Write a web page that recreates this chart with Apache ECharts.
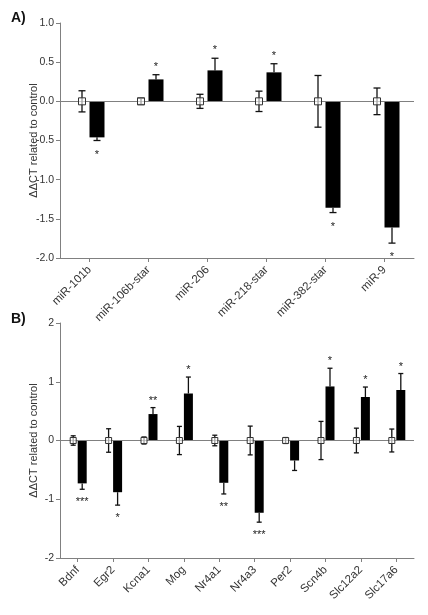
<!DOCTYPE html>
<html>
<head>
<meta charset="utf-8">
<script src="https://cdn.jsdelivr.net/npm/echarts@6/dist/echarts.min.js"></script>
<style>
html,body{margin:0;padding:0;background:#fff;}
#c{width:428px;height:615px;}
</style>
</head>
<body>
<div id="c"></div>
<script>
// ---- Data ----
const catsA = ['miR-101b','miR-106b-star','miR-206','miR-218-star','miR-382-star','miR-9'];
const ctrlMeanA = [0,0,0,0,0,0];
const ctrlErrA = [0.135,0.04,0.09,0.13,0.33,0.17];
const treatMeanA = [-0.46,0.28,0.395,0.37,-1.36,-1.61];
const treatErrA = [0.04,0.06,0.155,0.11,0.06,0.2];
const starsA = ['*','*','*','*','*','*'];
const ticksA = [-2.0,-1.5,-1.0,-0.5,0.0,0.5,1.0];

const catsB = ['Bdnf','Egr2','Kcna1','Mog','Nr4a1','Nr4a3','Per2','Scn4b','Slc12a2','Slc17a6'];
const ctrlMeanB = [0,0,0,0,0,0,0,0,0,0];
const ctrlErrB = [0.08,0.2,0.06,0.24,0.09,0.245,0.05,0.325,0.21,0.195];
const treatMeanB = [-0.73,-0.88,0.45,0.80,-0.72,-1.23,-0.34,0.92,0.74,0.86];
const treatErrB = [0.10,0.22,0.11,0.28,0.19,0.16,0.17,0.31,0.17,0.28];
const starsB = ['***','*','**','*','**','***','','*','*','*'];
const ticksB = [-2,-1,0,1,2];

const yTitle = 'ΔΔCT related to control';
const FONT = '"Liberation Sans", Arial, sans-serif';
const AXIS = '#808080';
const TXT = '#333';

const chart = echarts.init(document.getElementById('c'), null, {renderer:'canvas'});

function yAxisCfg(gi, ticks, dec){
  return {
    type:'value', gridIndex:gi, min:ticks[0], max:ticks[ticks.length-1],
    interval: ticks[1]-ticks[0],
    name: yTitle, nameLocation:'middle', nameGap:21, nameMoveOverlap:false,
    nameTextStyle:{fontFamily:FONT, fontSize:11, color:TXT},
    axisLine:{show:true, lineStyle:{color:AXIS, width:1}},
    axisTick:{show:true, length:4, lineStyle:{color:AXIS}},
    axisLabel:{fontFamily:FONT, fontSize:10.5, color:TXT, margin:6,
      formatter: v => v.toFixed(dec)},
    splitLine:{show:false}
  };
}
function xAxisCfg(gi, cats){
  return {
    type:'category', gridIndex:gi, data:cats,
    axisLine:{onZero:false, lineStyle:{color:AXIS, width:1}},
    axisTick:{show:true, alignWithLabel:true, length:4, lineStyle:{color:AXIS}},
    axisLabel:{fontFamily:FONT, fontSize:11.5, color:TXT, rotate:45, margin:10, interval:0},
    splitLine:{show:false}
  };
}

function ctrlSeries(gi, means, errs, bw, sq, cap){
  return {
    type:'custom', xAxisIndex:gi, yAxisIndex:gi, z:5,
    data: means.map((m,i)=>[i,m,errs[i]]),
    renderItem:(p, api)=>{
      const i = api.value(0), m = api.value(1), e = api.value(2);
      const c = api.coord([i, m]);
      const x = c[0] - bw/2;
      const t = api.coord([i, m+e])[1], b = api.coord([i, m-e])[1];
      return {type:'group', children:[
        {type:'line', shape:{x1:x,y1:t,x2:x,y2:b}, style:{stroke:'#111', lineWidth:1.3}},
        {type:'line', shape:{x1:x-cap,y1:t,x2:x+cap,y2:t}, style:{stroke:'#111', lineWidth:1.3}},
        {type:'line', shape:{x1:x-cap,y1:b,x2:x+cap,y2:b}, style:{stroke:'#111', lineWidth:1.3}},
        {type:'rect', shape:{x:x-sq/2, y:c[1]-sq/2, width:sq, height:sq}, style:{fill:'rgba(255,255,255,0.6)', stroke:'#333', lineWidth:1}}
      ]};
    }
  };
}
function errSeries(gi, means, errs, stars, bw, cap, gap){
  return {
    type:'custom', xAxisIndex:gi, yAxisIndex:gi, z:6,
    data: means.map((m,i)=>[i,m,errs[i]]),
    renderItem:(p, api)=>{
      const i = api.value(0), m = api.value(1), e = api.value(2);
      const s = m >= 0 ? 1 : -1;
      const c = api.coord([i, m]);
      const x = c[0] + bw/2;
      const t = api.coord([i, m + s*e])[1];
      const st = stars[p.dataIndex];
      const sy = s > 0 ? t - gap + 3 : t + gap + 3;
      return {type:'group', children:[
        {type:'line', shape:{x1:x,y1:c[1],x2:x,y2:t}, style:{stroke:'#111', lineWidth:1.3}},
        {type:'line', shape:{x1:x-cap,y1:t,x2:x+cap,y2:t}, style:{stroke:'#111', lineWidth:1.3}},
        {type:'text', x:x, y:sy, style:{text:st, fontFamily:FONT, fontSize:11, fill:'#222', align:'center', verticalAlign:'middle'}}
      ]};
    }
  };
}
function zeroLine(){
  return {silent:true, symbol:['none','none'], label:{show:false},
    lineStyle:{color:AXIS, type:'solid', width:1}, data:[{yAxis:0}]};
}

const bwA = 15, bwB = 9;

chart.setOption({
  animation:false,
  backgroundColor:'#fff',
  grid:[
    {left:60, right:14, top:23, height:235},
    {left:60, right:14, top:323, height:235}
  ],
  xAxis:[xAxisCfg(0,catsA), xAxisCfg(1,catsB)],
  yAxis:[yAxisCfg(0,ticksA,1), yAxisCfg(1,ticksB,0)],
  graphic:[
    {type:'text', left:11, top:11, style:{text:'A)', fontFamily:FONT, fontSize:14, fontWeight:'bold', fill:'#111'}},
    {type:'text', left:11, top:312, style:{text:'B)', fontFamily:FONT, fontSize:14, fontWeight:'bold', fill:'#111'}}
  ],
  series:[
    {type:'bar', xAxisIndex:0, yAxisIndex:0, data:ctrlMeanA, barWidth:bwA, barGap:'0%',
      itemStyle:{color:'rgba(0,0,0,0)'}, markLine:zeroLine()},
    {type:'bar', xAxisIndex:0, yAxisIndex:0, data:treatMeanA, barWidth:bwA, barGap:'0%',
      itemStyle:{color:'#000'}},
    ctrlSeries(0, ctrlMeanA, ctrlErrA, bwA, 7, 3.5),
    errSeries(0, treatMeanA, treatErrA, starsA, bwA, 3.5, 11),
    {type:'bar', xAxisIndex:1, yAxisIndex:1, data:ctrlMeanB, barWidth:bwB, barGap:'0%',
      itemStyle:{color:'rgba(0,0,0,0)'}, markLine:zeroLine()},
    {type:'bar', xAxisIndex:1, yAxisIndex:1, data:treatMeanB, barWidth:bwB, barGap:'0%',
      itemStyle:{color:'#000'}},
    ctrlSeries(1, ctrlMeanB, ctrlErrB, bwB, 6, 2.5),
    errSeries(1, treatMeanB, treatErrB, starsB, bwB, 2.5, 10)
  ]
});
</script>
</body>
</html>
